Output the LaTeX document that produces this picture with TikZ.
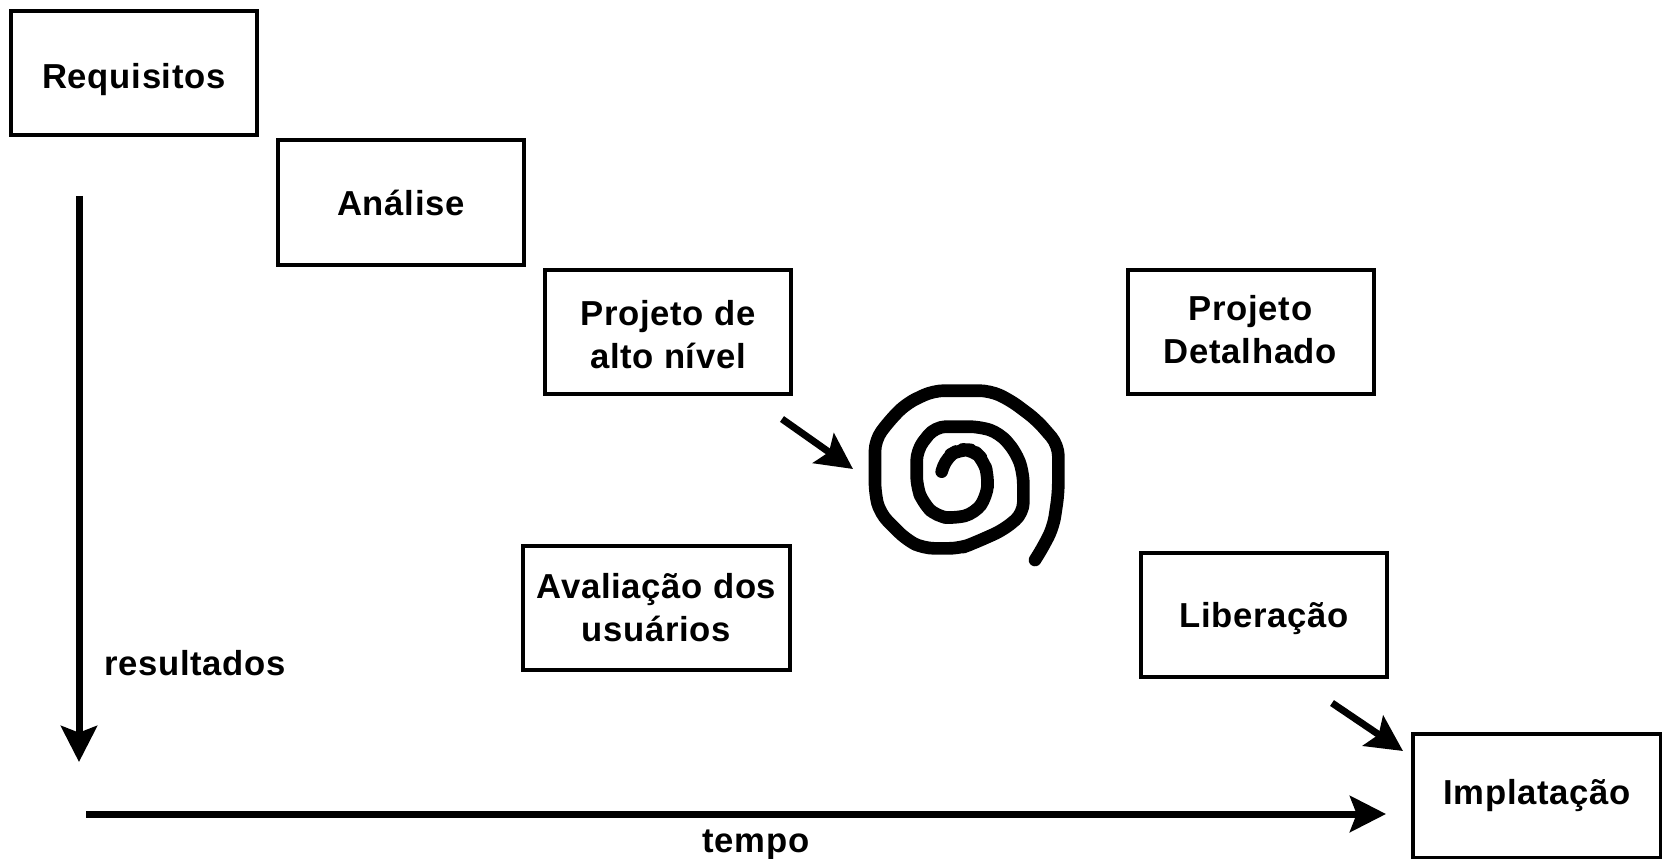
\documentclass[tikz,border=0pt]{standalone}
\usepackage{fontspec}
\setmainfont{Liberation Sans}[LetterSpace=2]
\usetikzlibrary{arrows.meta}
\tikzset{
  etapa/.style={draw,line width=3pt,minimum width=184.5pt,minimum height=93pt,inner sep=0pt,align=center,font=\etapafont},
  rotulo/.style={inner sep=0pt,font=\etapafont},
  seta/.style={line width=5.25pt,-{Stealth[length=27pt,width=27pt,inset=5pt]}},
  espiral/.style={line width=9.5pt,line join=round,line cap=round,rounded corners=8pt}
}
\newcommand{\etapafont}{\fontsize{26pt}{32.6pt}\selectfont\bfseries}
\begin{document}
\begin{tikzpicture}[x=0.75pt,y=0.75pt,yscale=-1]
    \useasboundingbox (0,0) rectangle (1662,859);

    % Boxes
    \node [etapa,text depth=0pt,text height=22pt] (requisitos) at (134,73.5) {Requisitos};
    \node [etapa] (analise) at (401,202.5) {Análise};
    \node [etapa,text height=56pt] (projetoAlto) at (668,331.5) {Projeto de\\alto nível};
    \node [etapa,text depth=3pt] (projetoDet) at (1250.5,331.5) {Projeto\\Detalhado};
    \node [etapa,minimum width=200.5pt] (avaliacao) at (656.5,607.5) {Avaliação dos\\usuários};
    \node [etapa,text depth=0pt] (liberacao) at (1264,614.5) {Liberação};
    \node [etapa,minimum width=186pt] (implatacao) at (1537,795.5) {Implatação};

    % Free labels
    \node [rotulo] (resultados) at (195,663) {resultados};
    \node [rotulo] (tempo) at (756,845) {tempo};

    % Arrow ends
    \coordinate (resultadosIni) at (79,196);
    \coordinate (resultadosFim) at (79,762);
    \coordinate (tempoIni) at (86,814);
    \coordinate (tempoFim) at (1386,814);
    \coordinate (espiralIni) at (782,419);
    \coordinate (espiralFim) at (853,469);
    \coordinate (implantaIni) at (1332,703);
    \coordinate (implantaFim) at (1403,751);

    \draw [seta] (resultadosIni) -- (resultadosFim);
    \draw [seta] (tempoIni) -- (tempoFim);
    \draw [seta] (espiralIni) -- (espiralFim);
    \draw [seta] (implantaIni) -- (implantaFim);

    % Spiral
    \begin{scope}[shift={(840,370)},x=0.25pt,y=0.25pt]
    \draw [espiral] (305,305) -- (320,260) -- (360,238) -- (400,240) -- (430,270) -- (445,320)
      -- (440,380) -- (405,430) -- (345,445) -- (290,440) -- (250,400) -- (230,350)
      -- (230,240) -- (285,170) -- (420,170) -- (480,190) -- (530,250) -- (550,310)
      -- (550,430) -- (490,480) -- (400,520) -- (360,535) -- (250,535) -- (200,510)
      -- (120,430) -- (105,370) -- (105,210) -- (150,150) -- (200,100) -- (280,62)
      -- (450,62) -- (510,90) -- (590,150) -- (655,225) -- (655,370) -- (640,470)
      -- (610,530) -- (585,570);
    \end{scope}
\end{tikzpicture}
\end{document}
